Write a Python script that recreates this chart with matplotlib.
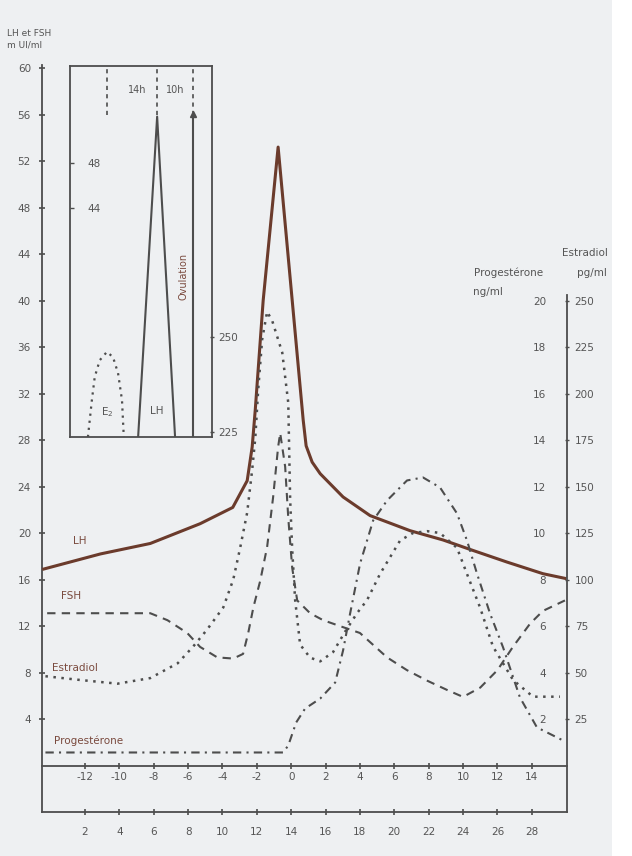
import matplotlib
matplotlib.use("Agg")
import matplotlib.pyplot as plt
from matplotlib.patches import Rectangle

# ---------------- data (x = days relative to the LH peak) ----------------
lh_day = [-14.4, -11.1, -8.2, -5.3, -3.4, -2.56, -2.27, -2.09, -1.63, -0.76,
          0.06, 0.70, 0.87, 1.22, 1.69, 3.02, 4.59, 6.92, 8.84, 10.58, 12.56, 14.65, 15.93]
lh_val = [16.9, 18.2, 19.1, 20.8, 22.2, 24.5, 27.4, 30.6, 40.0, 53.2,
          40.0, 29.7, 27.5, 26.1, 25.1, 23.1, 21.5, 20.2, 19.4, 18.5, 17.5, 16.5, 16.1]

fsh_day = [-14.2, -8.2, -7.2, -6.05, -5.3, -4.3, -3.37, -2.8, -2.5, -2.2, -1.8, -1.4,
           -1.05, -0.76, -0.64, -0.35, -0.17, 0.06, 0.35, 1.1, 1.86, 3.02, 4.0, 5.58,
           6.74, 7.91, 9.07, 10.0, 11.0, 12.0, 12.9, 13.9, 14.65, 15.93]
fsh_val = [13.1, 13.1, 12.5, 11.4, 10.2, 9.3, 9.2, 9.6, 11.4, 13.6, 15.9, 18.8,
           23.1, 27.4, 28.6, 25.7, 21.3, 17.0, 14.2, 13.1, 12.5, 11.9, 11.4, 9.3,
           8.2, 7.3, 6.5, 5.9, 6.7, 8.2, 10.2, 12.2, 13.3, 14.2]

e2_day = [-14.3, -12.3, -10.1, -8.2, -6.6, -5.7, -4.9, -3.95, -3.37, -2.97, -2.56,
          -2.27, -2.09, -1.92, -1.69, -1.40, -1.10, -0.52, -0.17, -0.06, 0.06, 0.23,
          0.52, 1.10, 1.69, 2.44, 3.14, 3.84, 4.42, 5.17, 6.34, 7.09, 7.91, 8.66,
          9.65, 10.23, 10.99, 11.74, 12.91, 14.07, 15.64]
e2_val = [48, 46, 44, 47, 55, 64, 73, 85, 100, 117, 136,
          159, 176, 202, 229, 244, 239, 222, 195, 143, 116, 89,
          65, 58, 56, 61, 72, 82, 89, 103, 121, 125, 126, 125,
          117, 103, 85, 64, 46, 37, 37]

prog_day = [-14.3, -0.47, -0.17, 0.29, 0.81, 1.69, 2.56, 3.02, 3.43, 4.01, 4.77,
            5.58, 6.74, 7.67, 8.66, 9.65, 10.23, 10.81, 11.57, 12.33, 13.31, 14.3, 15.81]
prog_val = [0.56, 0.56, 0.86, 1.85, 2.45, 2.88, 3.57, 4.95, 6.54, 8.69, 10.54,
            11.4, 12.26, 12.39, 11.96, 10.84, 9.68, 8.26, 6.54, 5.08, 2.93, 1.64, 1.08]

rel_days = [-12, -10, -8, -6, -4, -2, 0, 2, 4, 6, 8, 10, 12, 14]
cycle_days = [2, 4, 6, 8, 10, 12, 14, 16, 18, 20, 22, 24, 26, 28]
lh_ticks = [4, 8, 12, 16, 20, 24, 28, 32, 36, 40, 44, 48, 52, 56, 60]
prog_ticks = [2, 4, 6, 8, 10, 12, 14, 16, 18, 20]
e2_ticks = [25, 50, 75, 100, 125, 150, 175, 200, 225, 250]

# inset (hours after the estradiol peak)
in_e2_h = [-5.3, -4.2, -3.4, -2.0, 0.0, 1.7, 3.1, 4.2, 4.7]
in_e2_val = [223.7, 233.4, 239.5, 243.9, 246.1, 244.7, 240.5, 233.4, 223.7]
in_lh_h = [8.7, 14.0, 19.0]
in_lh_val = [23.6, 52.1, 23.6]
e2_peak_h, lh_peak_h, ovulation_h = 0, 14, 24
in_lh_ticks = [44, 48]
in_e2_ticks = [225, 250]

# ---------------- style ----------------
BG = "#eef0f2"
INK = "#4d4d4d"
BROWN = "#6b3b2c"
LABEL = "#7a4a3e"
FS = 7.5
plt.rcParams["font.family"] = ["DejaVu Sans"]

fig = plt.figure(figsize=(6.32, 8.56), dpi=100, facecolor=BG)

Y0, Y1 = -4.0, 60.3
ax = fig.add_axes([42 / 632, 0.0514, 525 / 632, 0.8732])
ax.set_facecolor(BG)
ax.set_xlim(-14.5, 16.05)
ax.set_ylim(Y0, Y1)

# estradiol and progesterone scales tied to the LH scale
ax_e2 = ax.twinx()
ax_e2.set_ylim(Y0 * 6.25, Y1 * 6.25)
ax_p = ax.twinx()
ax_p.set_ylim(Y0 / 2, Y1 / 2)

for a in (ax, ax_e2, ax_p):
    for s in a.spines.values():
        s.set_visible(False)

ax.spines["left"].set_visible(True)
ax.spines["bottom"].set_visible(True)
for s in ("left", "bottom"):
    ax.spines[s].set_color(INK)
    ax.spines[s].set_linewidth(1.3)
ax_e2.spines["right"].set_visible(True)
ax_e2.spines["right"].set_color(INK)
ax_e2.spines["right"].set_linewidth(1.3)
ax_e2.spines["right"].set_bounds(Y0 * 6.25, 40.5 * 6.25)

# left axis
ax.set_yticks(lh_ticks)
ax.set_yticklabels([str(v) for v in lh_ticks])
ax.tick_params(axis="y", direction="inout", length=4, width=1.2, color=INK,
               labelsize=FS, labelcolor="#555555", pad=6)

# bottom: cycle days
ax.set_xticks(rel_days)
ax.set_xticklabels([str(v) for v in cycle_days])
ax.tick_params(axis="x", direction="inout", length=4, width=1.2, color=INK,
               labelsize=FS, labelcolor="#555555", pad=9)

# upper row: days relative to the LH peak, on the line y = 0
sec = ax.secondary_xaxis((0 - Y0) / (Y1 - Y0))
sec.set_xticks(rel_days)
sec.set_xticklabels([str(v) for v in rel_days])
sec.spines["bottom"].set_color(INK)
sec.spines["bottom"].set_linewidth(1.3)
sec.tick_params(direction="inout", length=4, width=1.2, color=INK,
                labelsize=FS, labelcolor="#555555", pad=3)

# right: estradiol labels outside, progesterone labels inside
ax_e2.set_yticks(e2_ticks)
ax_e2.set_yticklabels([str(v) for v in e2_ticks])
ax_e2.tick_params(axis="y", direction="inout", length=3, width=1.0, color=INK,
                  labelsize=FS, labelcolor="#555555", pad=4)
ax_p.set_yticks(prog_ticks)
ax_p.set_yticklabels([str(v) for v in prog_ticks])
ax_p.tick_params(axis="y", length=0, labelsize=FS, labelcolor="#555555", pad=-15)
for lab in ax_p.get_yticklabels():
    lab.set_horizontalalignment("right")

# curves
ax.plot(lh_day, lh_val, color=BROWN, lw=2.2, solid_joinstyle="round", zorder=5)
ax.plot(fsh_day, fsh_val, color=INK, lw=1.5, linestyle=(0, (4, 3)), zorder=4)
ax_e2.plot(e2_day, e2_val, color=INK, lw=1.8, linestyle=(0, (1, 2.2)), zorder=4)
ax_p.plot(prog_day, prog_val, color=INK, lw=1.5, linestyle=(0, (4, 2.5, 1, 2.5)), zorder=4)

# curve labels
ax.text(-12.7, 19.3, "LH", fontsize=FS, color=LABEL, va="center", ha="left")
ax.text(-13.4, 14.6, "FSH", fontsize=FS, color=LABEL, va="center", ha="left")
ax.text(-13.9, 8.4, "Estradiol", fontsize=FS, color=LABEL, va="center", ha="left")
ax.text(-13.8, 2.15, "Progestérone", fontsize=FS, color=LABEL, va="center", ha="left")

# axis titles
fig.text(7 / 632, 1 - 33 / 856, "LH et FSH", fontsize=6.5, color="#555555",
         va="center", ha="left")
fig.text(7 / 632, 1 - 45 / 856, "m UI/ml", fontsize=6.5, color="#555555",
         va="center", ha="left")
ax.text(14.65, 42.4, "Progestérone", fontsize=FS, color="#555555", ha="right", va="center")
ax.text(11.45, 40.7, "ng/ml", fontsize=FS, color="#555555", ha="center", va="center")
ax.text(15.76, 44.1, "Estradiol", fontsize=FS, color="#555555", ha="left", va="center",
        clip_on=False)
ax.text(16.63, 42.4, "pg/ml", fontsize=FS, color="#555555", ha="left", va="center",
        clip_on=False)

# ---------------- inset ----------------
axi = fig.add_axes([70 / 632, 1 - 437 / 856, 142 / 632, 371 / 856])
axi.set_facecolor(BG)
axi.set_xlim(-10.3, 29.3)
axi.set_ylim(23.6, 56.6)
for s in axi.spines.values():
    s.set_color(INK)
    s.set_linewidth(1.3)
axi.set_xticks([])
axi.set_yticks(in_lh_ticks)
axi.set_yticklabels([str(v) for v in in_lh_ticks])
axi.tick_params(axis="y", direction="in", length=3, width=1.0, color=INK,
                labelsize=FS, labelcolor="#555555", pad=-22)
for lab in axi.get_yticklabels():
    lab.set_horizontalalignment("right")

axi_e2 = axi.twinx()
axi_e2.set_ylim(223.7, 321.3)
for s in axi_e2.spines.values():
    s.set_visible(False)
axi_e2.set_yticks(in_e2_ticks)
axi_e2.set_yticklabels([str(v) for v in in_e2_ticks])
axi_e2.tick_params(axis="y", direction="inout", length=3, width=1.0, color=INK,
                   labelsize=FS, labelcolor="#555555", pad=3)

axi_e2.plot(in_e2_h, in_e2_val, color=INK, lw=1.6, linestyle=(0, (1, 2.2)))
axi.plot(in_lh_h, in_lh_val, color=INK, lw=1.5)
axi.plot([ovulation_h, ovulation_h], [23.6, 52.3], color=INK, lw=1.5)
axi.plot([ovulation_h], [52.3], marker="^", color=INK, markersize=5)
for h in (e2_peak_h, lh_peak_h, ovulation_h):
    axi.plot([h, h], [52.2, 56.6], color=INK, lw=1.2, linestyle=(0, (2.5, 2.5)))
axi.text(8.4, 54.5, "14h", fontsize=FS - 0.5, color="#555555", ha="center", va="center")
axi.text(19.0, 54.5, "10h", fontsize=FS - 0.5, color="#555555", ha="center", va="center")
axi.text(21.4, 37.9, "Ovulation", fontsize=FS - 0.5, color=LABEL, rotation=90,
         ha="center", va="center")
axi.text(0.0, 25.8, "E$_2$", fontsize=FS, color="#555555", ha="center", va="center")
axi.text(14.0, 25.9, "LH", fontsize=FS, color="#555555", ha="center", va="center")

# white margin at the right edge of the photographed page
fig.patches.append(Rectangle((612 / 632, 0), 20 / 632, 1, transform=fig.transFigure,
                             facecolor="white", edgecolor="none", zorder=10))

fig.savefig("out.png", dpi=100, facecolor=BG)
